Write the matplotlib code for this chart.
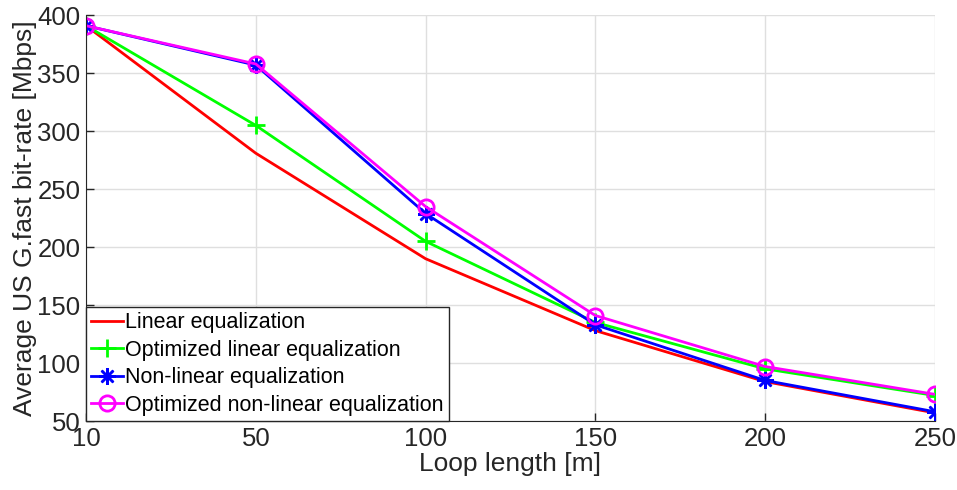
import numpy as np
import matplotlib.pyplot as plt

plt.rcParams["font.family"] = ["Liberation Sans", "DejaVu Sans"]

loop_len = ["10", "50", "100", "150", "200", "250"]
linear_eq = [391, 281, 190, 128, 84, 57]
opt_linear_eq = [391, 305, 205, 135, 95, 72]
nonlinear_eq = [391, 357, 229, 133, 85, 58]
opt_nonlinear_eq = [391, 358, 235, 141, 97, 73]

x = np.arange(len(loop_len))
grey = "#262626"

fig = plt.figure(figsize=(9.57, 4.9), dpi=100)
ax = fig.add_axes([0.0899, 0.1408, 0.887, 0.828])

ax.plot(x, linear_eq, color="#ff0000", lw=2, label="Linear equalization")
ax.plot(x, opt_linear_eq, color="#00ff00", lw=2, marker="+", ms=13, mew=2,
        label="Optimized linear equalization")
ax.plot(x, nonlinear_eq, color="#0000ff", lw=2, marker=(8, 2, 0), ms=12, mew=1.8,
        label="Non-linear equalization")
ax.plot(x, opt_nonlinear_eq, color="#ff00ff", lw=2, marker="o", ms=11, mew=2,
        mfc="none", label="Optimized non-linear equalization")

ax.set_xlim(0, len(loop_len) - 1)
ax.set_ylim(50, 400)
ax.set_xticks(x)
ax.set_xticklabels(loop_len)
ax.set_yticks(np.arange(50, 401, 50))
ax.tick_params(direction="in", labelsize=18.5, colors=grey, length=6, width=1, pad=4)
ax.grid(True, color="#dfdfdf", lw=1)
ax.set_axisbelow(True)
for s in ["top", "right"]:
    ax.spines[s].set_visible(False)
for s in ["left", "bottom"]:
    ax.spines[s].set_color(grey)
ax.set_xlabel("Loop length [m]", fontsize=19, color=grey, labelpad=1)
ax.set_ylabel("Average US G.fast bit-rate [Mbps]", fontsize=19, color=grey, labelpad=0)

leg = ax.legend(loc="lower left", bbox_to_anchor=(0, 0), borderaxespad=0,
                fontsize=15.5, fancybox=False, framealpha=1, edgecolor=grey,
                handlelength=1.45, handletextpad=0.1, labelspacing=0.3,
                borderpad=0.25)
leg.get_frame().set_linewidth(1)

fig.savefig("out.png", dpi=100)
